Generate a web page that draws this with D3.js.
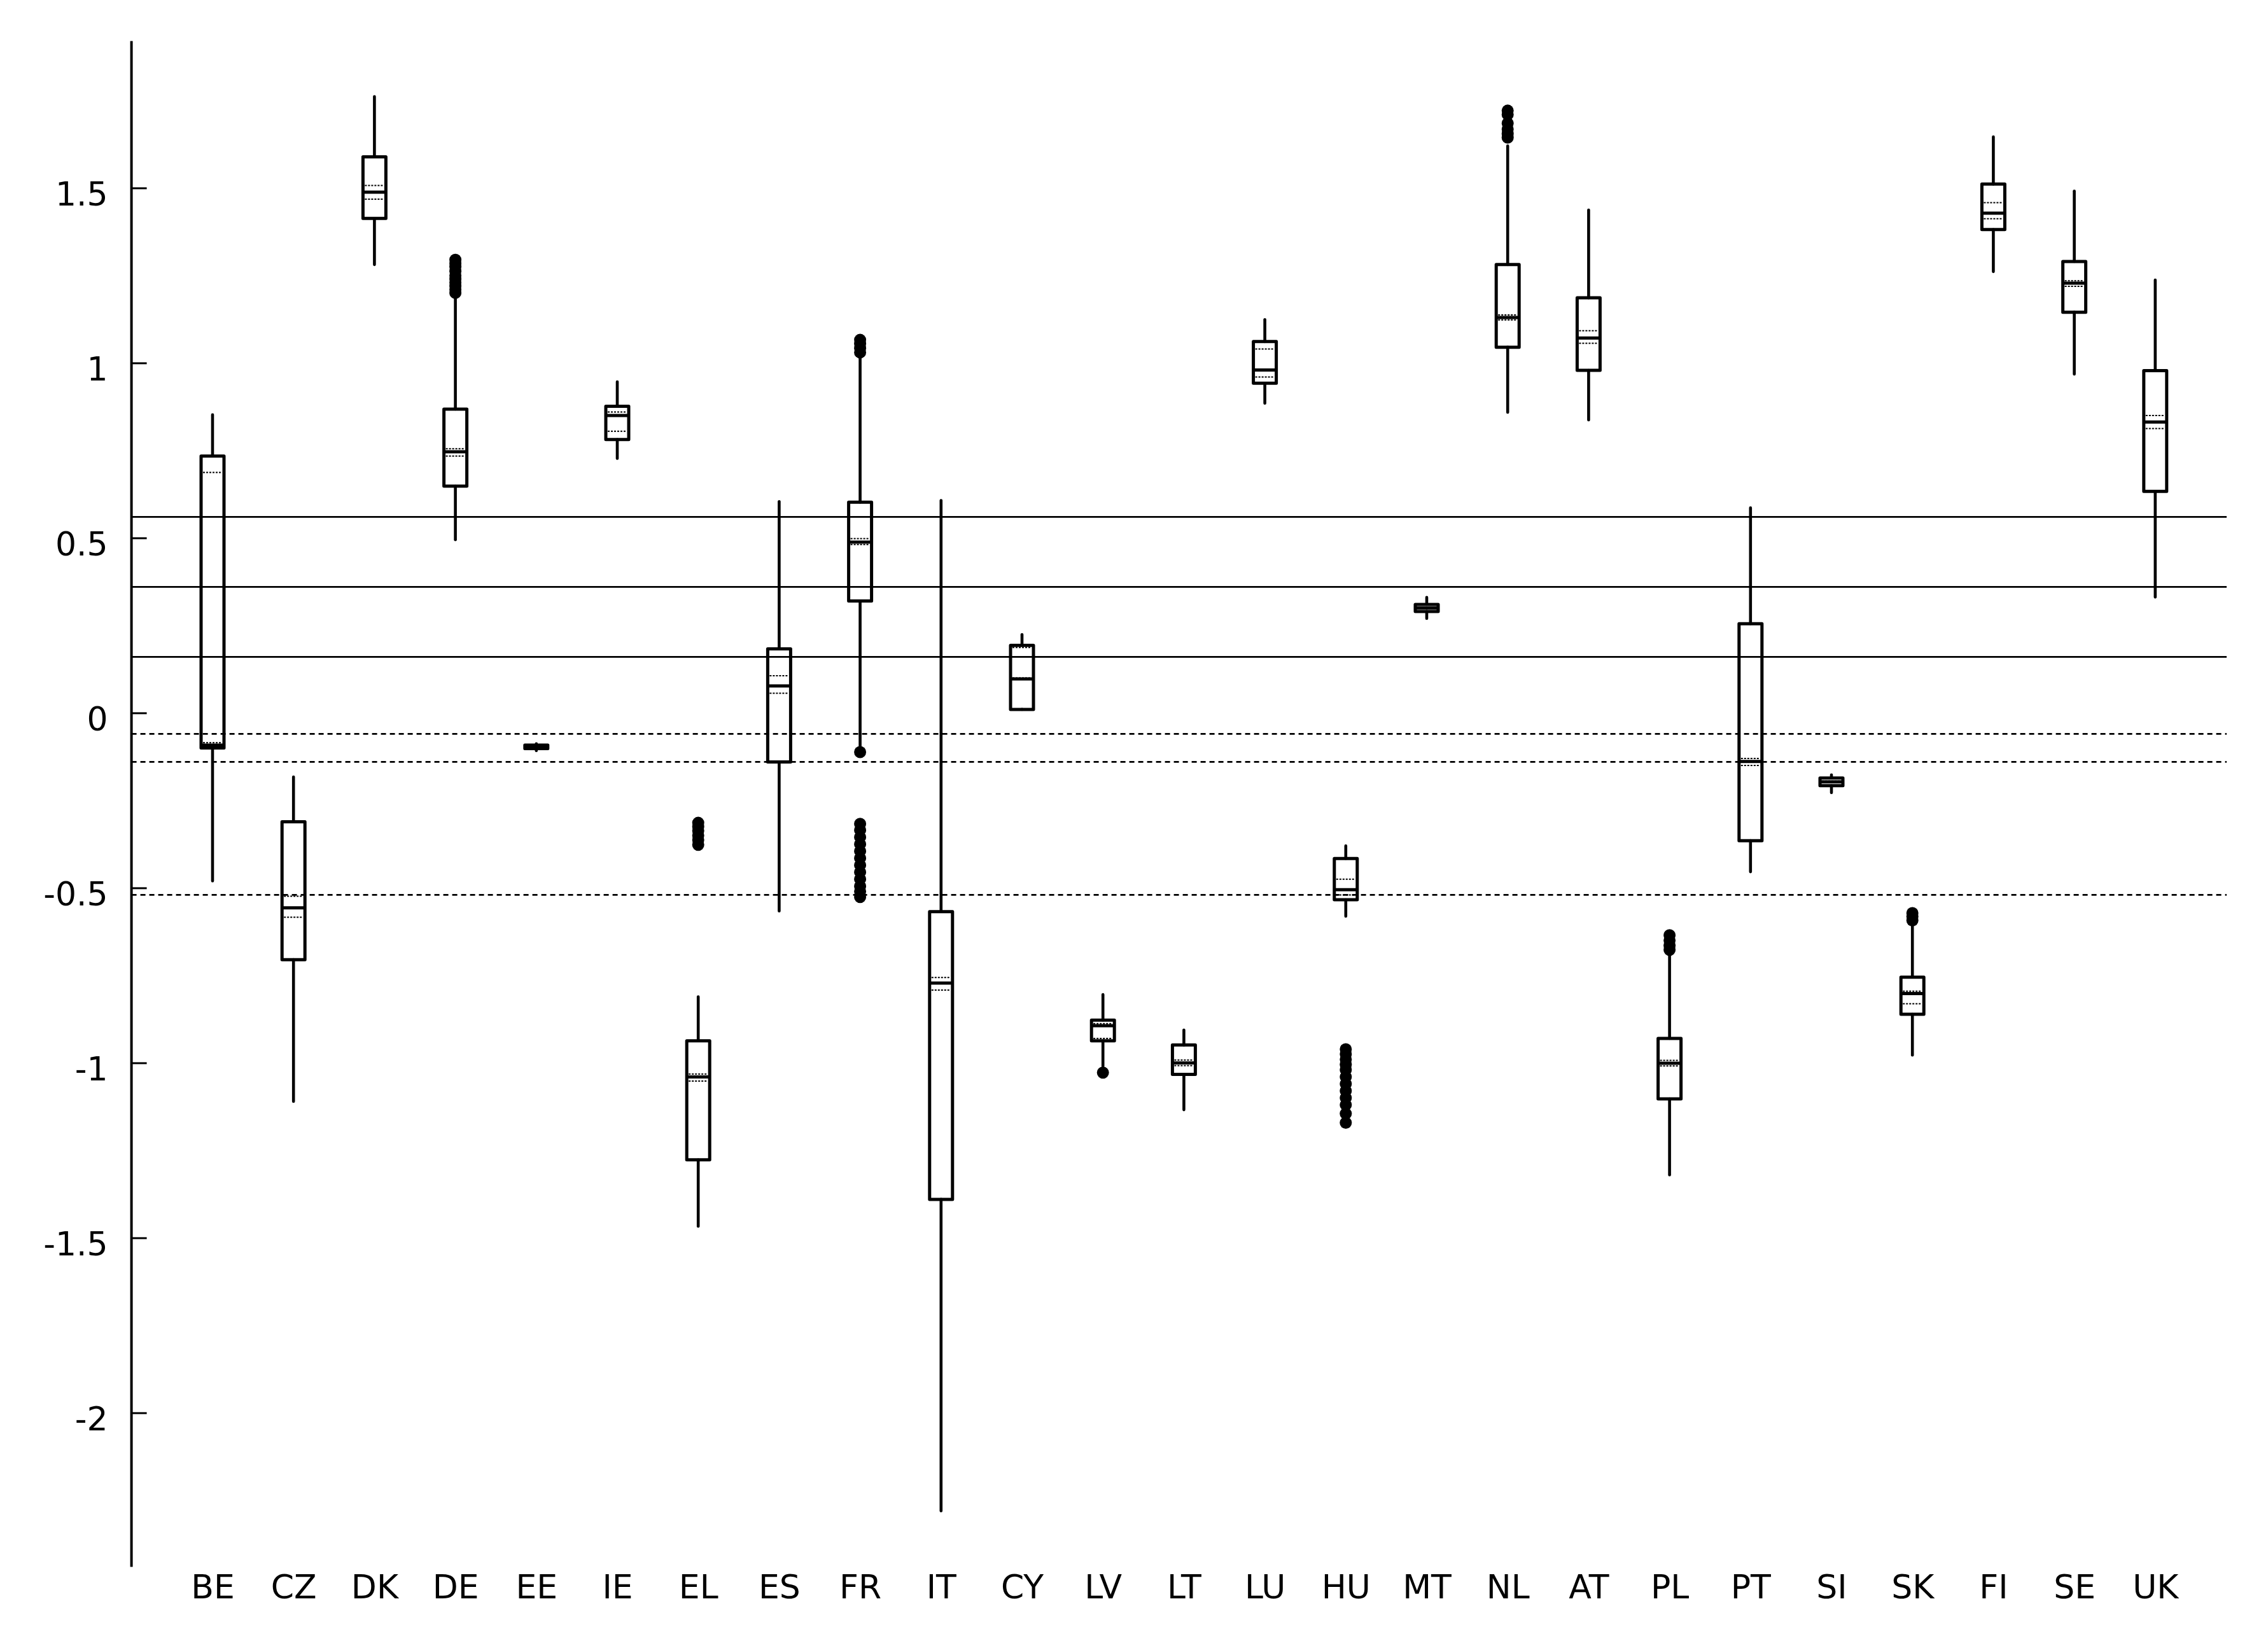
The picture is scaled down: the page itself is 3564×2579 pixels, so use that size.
<!DOCTYPE html>
<html>
<head>
<meta charset="utf-8">
<script src="https://cdn.jsdelivr.net/npm/d3@7"></script>
<style>
  html, body { margin: 0; padding: 0; background: #ffffff; }
  svg { display: block; }
  text { font-family: "DejaVu Sans", Verdana, sans-serif; fill: #000; }
</style>
</head>
<body>
<script>
// ---------------- DATA ----------------
const categories = ["BE","CZ","DK","DE","EE","IE","EL","ES","FR","IT","CY","LV","LT","LU","HU","MT","NL","AT","PL","PT","SI","SK","FI","SE","UK"];

const whiskerLow  = [-0.480,-1.110, 1.281, 0.495,-0.108, 0.727,-1.467,-0.566,-0.105,-2.280, 0.010,-1.010,-1.134, 0.885,-0.581, 0.270, 0.859, 0.837,-1.320,-0.454,-0.228,-0.978, 1.261, 0.968, 0.331];
const q1          = [-0.100,-0.705, 1.413, 0.648,-0.102, 0.781,-1.277,-0.140, 0.320,-1.390, 0.010,-0.937,-1.033, 0.942,-0.534, 0.290, 1.045, 0.979,-1.103,-0.365,-0.208,-0.861, 1.381, 1.145, 0.633];
const median      = [-0.092,-0.557, 1.488, 0.746,-0.097, 0.850,-1.040, 0.077, 0.488,-0.772, 0.097,-0.894,-1.000, 0.980,-0.505, 0.300, 1.130, 1.071,-1.001,-0.139,-0.197,-0.802, 1.428, 1.228, 0.831];
const q3          = [ 0.734,-0.311, 1.589, 0.868,-0.092, 0.876,-0.937, 0.183, 0.602,-0.568, 0.193,-0.878,-0.949, 1.061,-0.416, 0.310, 1.281, 1.186,-0.930, 0.255,-0.186,-0.755, 1.511, 1.290, 0.978];
const whiskerHigh = [ 0.852,-0.183, 1.761, 1.190,-0.088, 0.946,-0.811, 0.604, 1.020, 0.607, 0.224,-0.805,-0.906, 1.124,-0.380, 0.330, 1.620, 1.437,-0.690, 0.586,-0.177,-0.607, 1.646, 1.491, 1.237];
const dottedUpper = [ 0.687,-0.524, 1.507, 0.755,-0.095, 0.860,-1.032, 0.106, 0.498,-0.756, 0.187,-0.888,-0.992, 1.040,-0.475, 0.302, 1.137, 1.092,-0.993,-0.130,-0.195,-0.795, 1.458, 1.235, 0.850];
const dottedLower = [-0.085,-0.584, 1.468, 0.734,-0.099, 0.805,-1.052, 0.056, 0.481,-0.792, 0.100,-0.930,-1.008, 0.960,-0.520, 0.298, 1.123, 1.056,-1.009,-0.150,-0.199,-0.831, 1.412, 1.219, 0.8125];
const outliers = {
  DE: [1.200, 1.210, 1.220, 1.230, 1.240, 1.250, 1.262, 1.275, 1.285, 1.295],
  EL: [-0.314, -0.325, -0.337, -0.350, -0.363, -0.377],
  FR: [1.030, 1.042, 1.055, 1.066, -0.112, -0.317, -0.335, -0.355, -0.375, -0.395, -0.415, -0.435, -0.455, -0.475, -0.495, -0.510, -0.526],
  LV: [-1.028],
  HU: [-0.961, -0.975, -0.990, -1.005, -1.020, -1.040, -1.060, -1.080, -1.100, -1.120, -1.145, -1.171],
  NL: [1.644, 1.655, 1.668, 1.685, 1.710, 1.721],
  PL: [-0.635, -0.650, -0.665, -0.677],
  SK: [-0.572, -0.582, -0.593]
};

const refSolid  = [0.56, 0.36, 0.16];
const refDotted = [-0.06, -0.14, -0.52];
const yTicks = [1.5, 1, 0.5, 0, -0.5, -1, -1.5, -2];

// ---------------- LAYOUT ----------------
const W = 3564, H = 2579;
const axisX = 206.6, plotRight = 3499;

const svg = d3.select("body").append("svg")
  .attr("width", W).attr("height", H)
  .attr("viewBox", `0 0 ${W} ${H}`);
svg.append("rect").attr("width", W).attr("height", H).attr("fill", "#fff");

const y = d3.scaleLinear().domain([-2.44, 1.92]).range([2462.4, 64.4]);
const x = d3.scalePoint().domain(categories).range([334, 3386.8]);

// reference lines
svg.append("g").selectAll("line").data(refSolid).join("line")
  .attr("x1", axisX).attr("x2", plotRight)
  .attr("y1", d => y(d)).attr("y2", d => y(d))
  .attr("stroke", "#000").attr("stroke-width", 2.6);
svg.append("g").selectAll("line").data(refDotted).join("line")
  .attr("x1", axisX).attr("x2", plotRight)
  .attr("y1", d => y(d)).attr("y2", d => y(d))
  .attr("stroke", "#000").attr("stroke-width", 2.8)
  .attr("stroke-dasharray", "8,6");

// y axis
const yAxis = d3.axisRight(y).tickValues(yTicks).tickSize(24).tickFormat(d => String(d));
const gy = svg.append("g").attr("transform", `translate(${axisX},0)`).call(yAxis);
gy.select(".domain").remove();
gy.selectAll(".tick line").attr("stroke", "#000").attr("stroke-width", 3);
gy.selectAll(".tick text")
  .attr("x", -37).attr("dy", "0.52em")
  .attr("text-anchor", "end")
  .style("font-family", "'DejaVu Sans', Verdana, sans-serif")
  .style("font-size", "52px").attr("fill", "#000");
svg.append("line")
  .attr("x1", axisX).attr("x2", axisX)
  .attr("y1", y.range()[1]).attr("y2", y.range()[0])
  .attr("stroke", "#000").attr("stroke-width", 4);

// x labels
const xAxis = d3.axisBottom(x).tickSize(0).tickPadding(0);
const gx = svg.append("g").attr("transform", `translate(0,2512)`).call(xAxis);
gx.select(".domain").remove();
gx.selectAll(".tick text")
  .attr("y", 0).attr("dy", 0)
  .style("font-family", "'DejaVu Sans', Verdana, sans-serif")
  .style("font-size", "52px").attr("fill", "#000");

// boxes
const halfW = 18;
const rows = categories.map((c, i) => ({
  c, lo: whiskerLow[i], q1: q1[i], med: median[i], q3: q3[i], hi: whiskerHigh[i],
  du: dottedUpper[i], dl: dottedLower[i], out: outliers[c] || []
}));

const gb = svg.append("g").selectAll("g").data(rows).join("g")
  .attr("transform", d => `translate(${x(d.c)},0)`);

// whiskers
gb.append("line").attr("x1", 0).attr("x2", 0)
  .attr("y1", d => y(d.q3)).attr("y2", d => y(d.hi))
  .attr("stroke", "#000").attr("stroke-width", 4.6).attr("stroke-linecap", "round");
gb.append("line").attr("x1", 0).attr("x2", 0)
  .attr("y1", d => y(d.q1)).attr("y2", d => y(d.lo))
  .attr("stroke", "#000").attr("stroke-width", 4.6).attr("stroke-linecap", "round");

// dotted lines inside box
gb.append("line").attr("x1", -halfW + 3).attr("x2", halfW - 3)
  .attr("y1", d => y(d.du)).attr("y2", d => y(d.du))
  .attr("stroke", "#000").attr("stroke-width", 2).attr("stroke-dasharray", "3,2");
gb.append("line").attr("x1", -halfW + 3).attr("x2", halfW - 3)
  .attr("y1", d => y(d.dl)).attr("y2", d => y(d.dl))
  .attr("stroke", "#000").attr("stroke-width", 2).attr("stroke-dasharray", "3,2");

// box
gb.append("rect")
  .attr("x", -halfW).attr("width", 2 * halfW)
  .attr("y", d => y(d.q3)).attr("height", d => Math.max(0.5, y(d.q1) - y(d.q3)))
  .attr("fill", "none").attr("stroke", "#000").attr("stroke-width", 5)
  .attr("stroke-linejoin", "round");

// median
gb.append("line").attr("x1", -halfW).attr("x2", halfW)
  .attr("y1", d => y(d.med)).attr("y2", d => y(d.med))
  .attr("stroke", "#000").attr("stroke-width", 5);

// outliers
gb.selectAll("circle").data(d => d.out).join("circle")
  .attr("cx", 0).attr("cy", v => y(v)).attr("r", 9.5).attr("fill", "#000");
</script>
</body>
</html>
